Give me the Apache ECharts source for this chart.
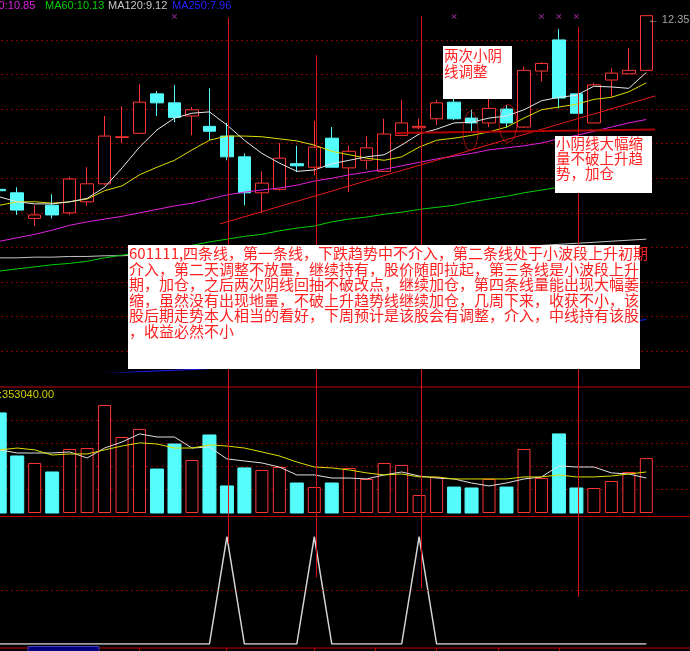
<!DOCTYPE html>
<html><head><meta charset="utf-8">
<script src="https://cdn.jsdelivr.net/npm/echarts@6/dist/echarts.min.js"></script>
<style>html,body{margin:0;padding:0;background:#000;overflow:hidden;width:690px;height:651px;}
#c{position:absolute;left:-9px;top:0;width:699px;height:651px;}</style>
</head><body><div id="c"></div>
<script>
// ---------- data ----------
const tradingDays = ['01','02','03','04','05','06','07','08','09','10','11','12','13','14','15','16','17','18','19','20',
  '21','22','23','24','25','26','27','28','29','30','31','32','33','34','35','36','37','38'];
const padSlots = ['+1','+2'];
const open  = [9.84,9.79,9.42,9.61,9.50,9.66,9.92,10.59,10.65,11.22,11.09,10.90,10.75,10.61,10.31,9.79,9.84,10.21,10.16,10.58,10.15,10.26,10.10,10.62,10.73,10.86,11.10,10.87,10.80,11.00,10.74,11.55,12.00,11.22,10.80,11.42,11.51,11.56];
const close = [9.82,9.54,9.47,9.47,9.99,9.92,10.61,10.60,11.10,11.09,10.88,10.99,10.68,10.31,9.79,9.93,10.29,10.18,10.45,10.16,10.39,10.44,10.64,10.80,10.75,11.09,10.86,10.80,11.01,10.80,11.56,11.66,11.16,10.94,11.35,11.52,11.56,12.35];
const low   = [9.79,9.47,9.31,9.42,9.47,9.60,9.90,10.51,10.65,10.90,10.81,10.62,10.55,10.26,9.61,9.50,9.82,10.09,10.05,10.16,9.80,10.13,10.09,10.61,10.71,10.77,10.84,10.67,10.74,10.73,10.73,11.40,11.01,10.94,10.80,11.17,11.51,11.56];
const high  = [9.87,9.87,9.61,9.77,10.02,10.16,10.90,11.04,11.36,11.26,11.35,11.03,11.30,10.80,10.36,10.10,10.51,10.47,10.83,10.74,10.47,10.61,10.86,11.13,10.86,11.13,11.16,10.99,11.16,11.06,11.61,11.68,12.16,11.22,11.38,11.59,11.88,12.35];
const ma5   = [9.73,9.66,9.63,9.63,9.66,9.71,9.87,10.15,10.45,10.70,10.87,10.94,10.96,10.77,10.55,10.36,10.22,10.10,10.12,10.21,10.26,10.31,10.34,10.48,10.64,10.71,10.80,10.81,10.87,10.90,10.99,11.12,11.17,11.20,11.33,11.32,11.30,11.53];
const ma10  = [9.61,9.66,9.66,9.64,9.66,9.70,9.82,9.89,10.05,10.16,10.26,10.41,10.55,10.61,10.61,10.60,10.57,10.54,10.48,10.39,10.34,10.29,10.26,10.31,10.45,10.55,10.58,10.62,10.67,10.74,10.87,10.99,11.03,11.07,11.14,11.17,11.25,11.38];
const ma30  = [9.09,9.14,9.19,9.25,9.32,9.37,9.41,9.45,9.50,9.55,9.60,9.64,9.70,9.76,9.80,9.83,9.86,9.90,9.96,10.00,10.05,10.09,10.13,10.18,10.23,10.28,10.32,10.36,10.41,10.44,10.47,10.51,10.57,10.62,10.68,10.74,10.80,10.85];
const ma60  = [8.66,8.69,8.72,8.75,8.77,8.80,8.85,8.89,8.92,8.96,8.99,9.03,9.08,9.12,9.16,9.19,9.24,9.28,9.31,9.37,9.41,9.44,9.48,9.51,9.55,9.58,9.61,9.66,9.70,9.74,9.79,9.83,9.87,9.92,9.97,10.02,10.08,10.13];
const ma120 = [8.85,8.85,8.86,8.86,8.87,8.87,8.88,8.88,8.89,8.89,8.90,8.90,8.91,8.91,8.92,8.92,8.93,8.94,8.94,8.95,8.95,8.96,8.97,8.97,8.98,8.99,8.99,9.00,9.01,9.01,9.02,9.03,9.045,9.06,9.075,9.09,9.105,9.12];
const ma250 = [7.12,7.13,7.14,7.15,7.16,7.17,7.18,7.19,7.205,7.215,7.225,7.235,7.25,7.27,7.30,7.33,7.36,7.39,7.42,7.45,7.48,7.51,7.54,7.57,7.60,7.63,7.66,7.69,7.71,7.73,7.75,7.77,7.79,7.82,7.85,7.88,7.92,7.96];
const priceGridLevels = [7.5,8.0,8.5,9.0,9.5,10.0,10.5,11.0,11.5,12.0];
const volume = [644000,367000,322000,264000,412000,418000,695000,489000,541000,283000,444000,341000,502000,174000,290000,277000,296000,193000,167000,193000,290000,219000,322000,309000,116000,232000,167000,161000,219000,167000,412000,225000,509000,161000,161000,206000,264000,353040];
const volMa5 = [406000,386000,386000,386000,393000,354000,418000,457000,509000,489000,489000,418000,425000,348000,335000,322000,296000,245000,245000,225000,225000,219000,245000,264000,238000,225000,219000,193000,174000,193000,219000,232000,303000,296000,296000,258000,251000,225000];
const volMa10 = [406000,418000,406000,373000,380000,380000,406000,431000,451000,444000,418000,418000,438000,431000,418000,393000,367000,328000,296000,290000,277000,258000,245000,251000,232000,232000,219000,219000,219000,219000,232000,232000,245000,232000,232000,238000,251000,264000];
const signal = [0,0,0,0,0,0,0,0,0,0,0,0,0,1,0,0,0,0,1,0,0,0,0,0,1,0,0,0,0,0,0,0,0,0,0,0,0,0];
const markerIdx = [10,26,31,32,33];
const markerLevel = 12.34;
const signalLineIdx = [13,18,24,33];
const signalLineTop = [12.32,11.78,12.35,12.19];
const signalLineBottom = [0.94,0.62,0.52,0.44];
const trendUp = [[12.6,9.34],[37.5,11.19]];
const trendFlat = [[22.62,10.655],[37.5,10.706]];
const dateTickX = [139,226,314,375,436,498,559];
const noteMain = '601111,四条线，第一条线，下跌趋势中不介入，第二条线处于小波段上升初期\n介入，第二天调整不放量，继续持有，股价随即拉起，第三条线是小波段上升\n期，加仓，之后两次阴线回抽不破改点，继续加仓，第四条线量能出现大幅萎\n缩，虽然没有出现地量，不破上升趋势线继续加仓，几周下来，收获不小，该\n股后期走势本人相当的看好，下周预计是该股会有调整，介入，中线持有该股\n，收益必然不小';
const noteA = '两次小阴\n线调整';
const noteB = '小阴线大幅缩\n量不破上升趋\n势，加仓';

// ---------- chart ----------
const OX = 9; // container is shifted 9px left; page x -> container x
const RED = '#ff3434', CYAN = '#54fcfc', GRID = '#8c0000';
const xSlots = tradingDays.concat(padSlots);
const isUp = i => close[i] >= open[i];
const candleData = open.map((o,i)=>[o, close[i], low[i], high[i]]);
const volData = volume.map((v,i)=>({value:v, itemStyle: isUp(i) ? {color:'#000', borderColor:RED, borderWidth:1} : {color:CYAN, borderColor:CYAN}}));
const dotted = {show:true, showMinLine:false, showMaxLine:false, lineStyle:{color:GRID, type:[2,3], width:1}};
const hideAx = {axisLine:{show:false}, axisTick:{show:false}, axisLabel:{show:false}};
function ln(name, data, color, xi, yi, w){
  return {name, type:'line', xAxisIndex:xi, yAxisIndex:yi, data, symbol:'none', silent:true,
    lineStyle:{color, width:w||1}, itemStyle:{color}, z:3};
}
const chart = echarts.init(document.getElementById('c'));
const option = {
  backgroundColor:'#000', animation:false,
  grid:[
    {left:0, right:0, top:6, height:366},
    {left:0, right:0, top:398, height:115},
    {left:0, right:0, top:526, height:118}
  ],
  xAxis:[
    {type:'category', gridIndex:0, data:xSlots, boundaryGap:true, show:false},
    {type:'category', gridIndex:1, data:xSlots, boundaryGap:true, show:false},
    {type:'category', gridIndex:2, data:xSlots, boundaryGap:true, show:false},
    {type:'value', gridIndex:0, min:-0.5, max:xSlots.length-0.5, show:false}
  ],
  yAxis:[
    Object.assign({type:'value', gridIndex:0, min:7.2, max:12.49, splitLine:{show:false}}, hideAx),
    Object.assign({type:'value', gridIndex:1, min:0, max:740000, interval:150000, splitLine:dotted}, hideAx),
    Object.assign({type:'value', gridIndex:2, min:0, max:1.1, splitLine:{show:false}}, hideAx)
  ],
  series:[
    {name:'grid', type:'line', xAxisIndex:0, yAxisIndex:0, data:close, symbol:'none', silent:true, z:1,
     lineStyle:{opacity:0, width:0},
     markLine:{silent:true, symbol:'none', z:1, label:{show:false}, lineStyle:{color:GRID, type:[2,3], width:1},
       data: priceGridLevels.map(v=>({yAxis:v}))}},
    {name:'K', type:'candlestick', xAxisIndex:0, yAxisIndex:0, data:candleData, barWidth:13, silent:true,
     itemStyle:{color:'#000', color0:CYAN, borderColor:RED, borderColor0:CYAN, borderWidth:1}, z:2},
    ln('MA250', ma250, '#1c1cff', 0, 0),
    ln('MA120', ma120, '#c4c4c4', 0, 0),
    ln('MA60', ma60, '#00d000', 0, 0),
    ln('MA30', ma30, '#e020e0', 0, 0),
    ln('MA10', ma10, '#dede00', 0, 0),
    ln('MA5', ma5, '#e8e8e8', 0, 0),
    ln('trendUp', trendUp, '#e41a1a', 3, 0),
    ln('trendFlat', trendFlat, '#b00000', 3, 0, 2),
    {type:'scatter', xAxisIndex:0, yAxisIndex:0, silent:true, z:4,
     data: markerIdx.map(i=>[i, markerLevel]),
     symbol:'path://M0,1L1,0L5,4L9,0L10,1L6,5L10,9L9,10L5,6L1,10L0,9L4,5Z', symbolSize:5,
     itemStyle:{color:'#e040e0'}},
    {type:'scatter', xAxisIndex:0, yAxisIndex:0, silent:true, z:4,
     data:[[high.length-1, high[high.length-1]]], symbolSize:1, itemStyle:{color:'rgba(0,0,0,0)'},
     label:{show:true, position:'right', distance:1, offset:[0,4], color:'#c8c8c8', fontSize:11, fontFamily:'Liberation Sans',
       formatter:p=>'← '+p.value[1].toFixed(2)}},
    {name:'VOL', type:'bar', xAxisIndex:1, yAxisIndex:1, data:volData, barWidth:13, silent:true, z:2},
    ln('VMA5', volMa5, '#e0e0e0', 1, 1),
    ln('VMA10', volMa10, '#dede00', 1, 1),
    {name:'SIG', type:'line', xAxisIndex:2, yAxisIndex:2, data:signal, symbol:'none', silent:true,
     lineStyle:{color:'#d4d4d4', width:1.5},
     markLine:{silent:true, symbol:'none', label:{show:false}, data:[{yAxis:0.5}],
       lineStyle:{color:GRID, type:[2,3], width:1}}}
  ]
};
chart.setOption(option);

// ---------- annotations ----------
const g = [];
const F = "'Liberation Sans', Arial, sans-serif";
const CJK = "'Noto Sans CJK SC', sans-serif";
// panel separators
[387, 516.5, 648].forEach(y=>g.push({type:'line', silent:true, z:40, shape:{x1:0,y1:y,x2:699,y2:y}, style:{stroke:'#c00000', lineWidth:1}}));
// date ticks on the bottom axis line
dateTickX.forEach(x=>g.push({type:'line', silent:true, z:40, shape:{x1:x+OX+0.5,y1:648,x2:x+OX+0.5,y2:651}, style:{stroke:'#c00000', lineWidth:1}}));
g.push({type:'rect', silent:true, z:40, shape:{x:28+OX,y:646.5,width:71,height:8}, style:{fill:'#00007c', stroke:'#4040c0', lineWidth:1}});
// vertical signal lines
signalLineIdx.forEach((idx,k)=>{
  const t = chart.convertToPixel({xAxisIndex:0, yAxisIndex:0}, [idx, signalLineTop[k]]);
  const b = chart.convertToPixel({xAxisIndex:2, yAxisIndex:2}, [idx, signalLineBottom[k]]);
  const x = Math.round(t[0]+1.5)+0.5;
  g.push({type:'line', silent:true, z:50, shape:{x1:x,y1:t[1],x2:x,y2:b[1]}, style:{stroke:'#d81010', lineWidth:1}});
});
// ellipses
g.push({type:'circle', silent:true, z:55, x:470.5+OX, y:131, scaleX:0.385, shape:{cx:0,cy:0,r:19.5}, style:{fill:'rgba(0,0,0,0)', stroke:'#e01818', lineWidth:1, strokeNoScale:true}});
g.push({type:'circle', silent:true, z:55, x:508+OX, y:123.5, scaleX:0.47, shape:{cx:0,cy:0,r:19}, style:{fill:'rgba(0,0,0,0)', stroke:'#e01818', lineWidth:1, strokeNoScale:true}});
// note boxes
g.push({type:'rect', silent:true, z:100, shape:{x:128+OX,y:245,width:512,height:124}, style:{fill:'#fff'}});
g.push({type:'text', silent:true, z:101, x:129+OX, y:246, style:{text:noteMain, fill:'#ff2020', font:'15px '+CJK, lineHeight:15.5}});
g.push({type:'rect', silent:true, z:100, shape:{x:443+OX,y:46,width:69,height:53}, style:{fill:'#fff'}});
g.push({type:'text', silent:true, z:101, x:444+OX, y:47, style:{text:noteA, fill:'#ff2020', font:'14.5px '+CJK, lineHeight:16}});
g.push({type:'rect', silent:true, z:100, shape:{x:555+OX,y:136,width:97,height:57}, style:{fill:'#fff'}});
g.push({type:'text', silent:true, z:101, x:556+OX, y:136, style:{text:noteB, fill:'#ff2020', font:'14.5px '+CJK, lineHeight:15}});
// legend texts
const legend = [
  ['MA30:'+ma30[ma30.length-1].toFixed(2), '#e020e0', -24],
  ['MA60:'+ma60[ma60.length-1].toFixed(2), '#00d000', 45],
  ['MA120:'+ma120[ma120.length-1].toFixed(2), '#c8c8c8', 108],
  ['MA250:'+ma250[ma250.length-1].toFixed(2), '#2222ff', 172]
];
legend.forEach(l=>g.push({type:'text', silent:true, z:60, x:l[2]+OX, y:0, style:{text:l[0], fill:l[1], font:'11px '+F}}));
g.push({type:'text', silent:true, z:60, x:-1+OX, y:389, style:{text:':'+volume[volume.length-1].toFixed(2), fill:'#d0d000', font:'11px '+F}});
chart.setOption({graphic:g});
</script></body></html>
